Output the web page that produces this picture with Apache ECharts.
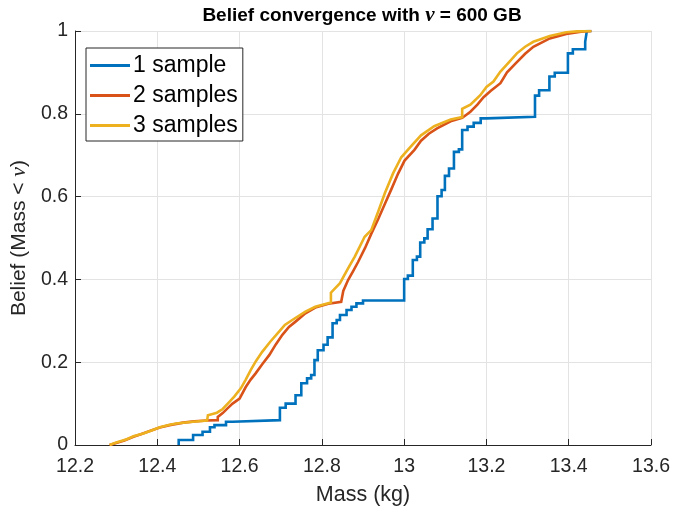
<!DOCTYPE html>
<html>
<head>
<meta charset="utf-8">
<script src="https://cdn.jsdelivr.net/npm/echarts@6/dist/echarts.min.js"></script>
<style>html,body{margin:0;padding:0;background:#fff;}#c{width:673px;height:513px;}</style>
</head>
<body>
<div id="c"></div>
<script>
// 1 sample
const massOne = [12.452, 12.452, 12.487, 12.51, 12.528, 12.539, 12.567, 12.583, 12.698, 12.712, 12.736, 12.75, 12.764, 12.774, 12.782, 12.79, 12.804, 12.814, 12.826, 12.836, 12.844, 12.86, 12.872, 12.884, 12.9, 13.0, 13.009, 13.021, 13.031, 13.039, 13.049, 13.057, 13.069, 13.081, 13.091, 13.099, 13.109, 13.121, 13.133, 13.141, 13.154, 13.169, 13.186, 13.2, 13.318, 13.328, 13.353, 13.366, 13.398, 13.41, 13.44, 13.444, 13.455];
const beliefOne = [0, 0.012, 0.024, 0.032, 0.043, 0.048, 0.056, 0.06, 0.09, 0.1, 0.12, 0.149, 0.161, 0.169, 0.205, 0.229, 0.242, 0.26, 0.294, 0.302, 0.314, 0.326, 0.334, 0.342, 0.349, 0.401, 0.409, 0.447, 0.455, 0.489, 0.499, 0.521, 0.547, 0.601, 0.616, 0.65, 0.668, 0.708, 0.714, 0.761, 0.769, 0.778, 0.789, 0.793, 0.844, 0.857, 0.89, 0.899, 0.946, 0.956, 0.974, 1.0, 1.0];
// 2 samples
const massTwo = [12.284, 12.30, 12.32, 12.342, 12.36, 12.38, 12.406, 12.43, 12.463, 12.49, 12.52, 12.547, 12.547, 12.559, 12.57, 12.583, 12.60, 12.615, 12.627, 12.639, 12.655, 12.672, 12.688, 12.704, 12.72, 12.736, 12.76, 12.784, 12.816, 12.847, 12.852, 12.864, 12.876, 12.888, 12.905, 12.92, 12.937, 12.953, 12.969, 12.985, 13.001, 13.025, 13.041, 13.06, 13.08, 13.113, 13.141, 13.161, 13.178, 13.193, 13.21, 13.234, 13.25, 13.274, 13.294, 13.314, 13.354, 13.394, 13.43, 13.455];
const beliefTwo = [0, 0.005, 0.011, 0.02, 0.026, 0.033, 0.042, 0.048, 0.054, 0.057, 0.059, 0.06, 0.068, 0.077, 0.088, 0.10, 0.112, 0.14, 0.158, 0.173, 0.195, 0.217, 0.243, 0.266, 0.285, 0.298, 0.318, 0.332, 0.341, 0.346, 0.372, 0.399, 0.42, 0.442, 0.476, 0.51, 0.546, 0.582, 0.618, 0.655, 0.687, 0.713, 0.735, 0.752, 0.765, 0.782, 0.79, 0.805, 0.822, 0.84, 0.855, 0.874, 0.9, 0.925, 0.945, 0.962, 0.982, 0.993, 0.998, 1.0];
// 3 samples
const massThree = [12.284, 12.30, 12.326, 12.342, 12.366, 12.386, 12.406, 12.43, 12.446, 12.487, 12.521, 12.523, 12.545, 12.559, 12.573, 12.587, 12.603, 12.615, 12.627, 12.64, 12.655, 12.675, 12.696, 12.71, 12.728, 12.76, 12.784, 12.822, 12.822, 12.844, 12.864, 12.88, 12.904, 12.92, 12.937, 12.953, 12.973, 12.993, 13.017, 13.041, 13.073, 13.113, 13.141, 13.141, 13.161, 13.185, 13.2, 13.217, 13.234, 13.255, 13.274, 13.294, 13.314, 13.354, 13.394, 13.42, 13.455];
const beliefThree = [0, 0.006, 0.014, 0.021, 0.028, 0.035, 0.043, 0.049, 0.052, 0.056, 0.059, 0.072, 0.078, 0.087, 0.102, 0.117, 0.137, 0.158, 0.181, 0.203, 0.225, 0.25, 0.274, 0.29, 0.302, 0.322, 0.334, 0.344, 0.368, 0.391, 0.427, 0.455, 0.503, 0.519, 0.564, 0.608, 0.656, 0.695, 0.722, 0.748, 0.77, 0.786, 0.792, 0.812, 0.822, 0.845, 0.865, 0.878, 0.902, 0.925, 0.946, 0.962, 0.974, 0.988, 0.997, 0.999, 1.0];

const seriesNames = ['1 sample', '2 samples', '3 samples'];
const xTicks = [12.2, 12.4, 12.6, 12.8, 13, 13.2, 13.4, 13.6];
const yTicks = [0, 0.2, 0.4, 0.6, 0.8, 1];

const zip = (a, b) => a.map((v, i) => [v, b[i]]);
const colors = ['#0072BD', '#D95319', '#EDB120'];
const FONT = '"Liberation Sans", Arial, Helvetica, sans-serif';
const SERIF = '"Liberation Serif", "Times New Roman", serif';
const AX = '#262626';

const chart = echarts.init(document.getElementById('c'), null, {renderer: 'canvas'});
const mk = (name, data, c, step) => ({
  name, type: 'line', step: step, data, showSymbol: false, symbol: 'none',
  lineStyle: {color: c, width: 2.6, join: 'miter'}, itemStyle: {color: c}, animation: false
});
const fmt = v => String(Math.round(v * 10) / 10);
chart.setOption({
  animation: false,
  title: {
    text: '{b|Belief convergence with }{i|ν}{b| = 600 GB}',
    left: 357, top: 0, textAlign: 'center',
    textStyle: {rich: {
      b: {fontFamily: FONT, fontWeight: 'bold', fontSize: 19, color: '#000'},
      i: {fontFamily: SERIF, fontStyle: 'italic', fontSize: 21, color: '#000'}
    }}
  },
  legend: {
    orient: 'vertical', left: 86, top: 48,
    data: seriesNames,
    itemWidth: 40, itemHeight: 3, itemGap: 7,
    padding: [6, 5, 4, 4],
    backgroundColor: '#fff', borderColor: AX, borderWidth: 1, borderRadius: 0,
    icon: 'rect',
    textStyle: {fontFamily: FONT, fontSize: 23, color: '#000', lineHeight: 23, padding: [0, 0, 0, -2]}
  },
  grid: {left: 71, right: 21, top: 31, bottom: 68, containLabel: false},
  xAxis: {
    type: 'value', min: 12.2, max: 13.6, interval: 0.2,
    name: 'Mass (kg)', nameLocation: 'middle', nameGap: 39,
    nameTextStyle: {fontFamily: FONT, fontSize: 21.5, color: AX},
    axisLine: {show: true, onZero: false, lineStyle: {color: AX, width: 1}},
    axisTick: {show: true, inside: true, length: 6, lineStyle: {color: AX}},
    axisLabel: {fontFamily: FONT, fontSize: 19.5, color: AX, margin: 12, formatter: fmt},
    splitLine: {show: true, lineStyle: {color: '#e3e3e3', width: 1}}
  },
  yAxis: {
    type: 'value', min: 0, max: 1, interval: 0.2,
    name: '{n|Belief (Mass < }{i|ν}{n|)}', nameLocation: 'middle', nameGap: 35,
    nameTextStyle: {rich: {
      n: {fontFamily: FONT, fontSize: 21, color: AX},
      i: {fontFamily: SERIF, fontStyle: 'italic', fontSize: 22, color: AX}
    }},
    axisLine: {show: true, lineStyle: {color: AX, width: 1}},
    axisTick: {show: true, inside: true, length: 6, lineStyle: {color: AX}},
    axisLabel: {fontFamily: FONT, fontSize: 19.5, color: AX, margin: 7, formatter: fmt},
    splitLine: {show: true, lineStyle: {color: '#e3e3e3', width: 1}}
  },
  series: [
    mk(seriesNames[0], zip(massOne, beliefOne), colors[0], 'end'),
    mk(seriesNames[1], zip(massTwo, beliefTwo), colors[1], false),
    mk(seriesNames[2], zip(massThree, beliefThree), colors[2], false)
  ]
});
</script>
</body>
</html>
